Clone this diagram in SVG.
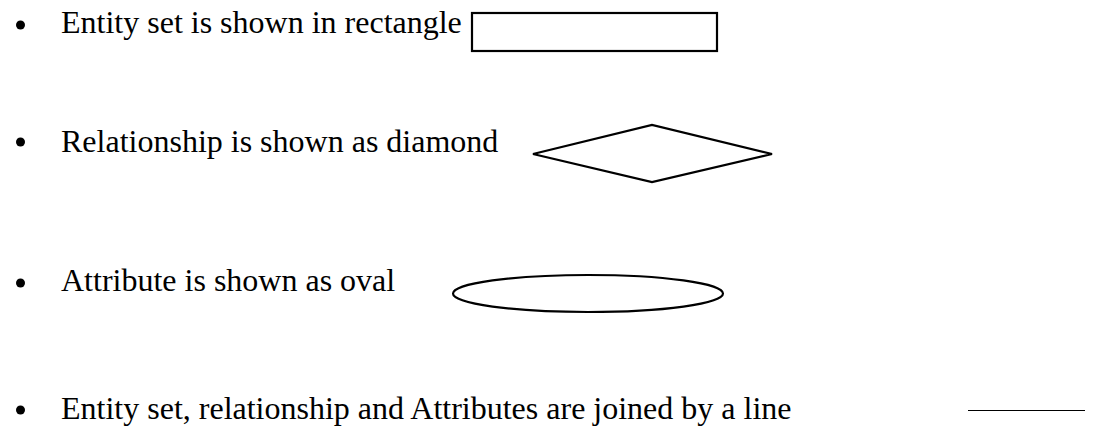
<svg xmlns="http://www.w3.org/2000/svg" width="1094" height="427" viewBox="0 0 1094 427">
<style>
.t{font-family:"Liberation Serif","Times New Roman",serif;font-size:32px;fill:#000}
.s{fill:#fff;stroke:#000;stroke-width:2.2}
.b{fill:#000}
</style>
<rect width="1094" height="427" fill="#fff"/>
<g id="item1">
<circle class="b" cx="20.5" cy="25" r="4.5"/>
<text class="t" x="61" y="33">Entity set is shown in rectangle</text>
</g>
<g id="rectangle"><rect class="s" x="472" y="13" width="245" height="38"/></g>
<g id="item2">
<circle class="b" cx="20.5" cy="142" r="4.5"/>
<text class="t" x="61" y="152">Relationship is shown as diamond</text>
</g>
<g id="diamond"><polygon class="s" points="533,154 652,125 772,154 652,182"/></g>
<g id="item3">
<circle class="b" cx="20.5" cy="283" r="4.5"/>
<text class="t" x="61" y="291">Attribute is shown as oval</text>
</g>
<g id="oval"><ellipse class="s" cx="588" cy="293.5" rx="135" ry="18.5" stroke-width="2.6"/></g>
<g id="item4">
<circle class="b" cx="20.5" cy="410" r="4.5"/>
<text class="t" x="61" y="419">Entity set, relationship and Attributes are joined by a line</text>
</g>
<g id="connectors"><line x1="968" y1="410.5" x2="1085" y2="410.5" stroke="#000" stroke-width="1"/></g>
</svg>
